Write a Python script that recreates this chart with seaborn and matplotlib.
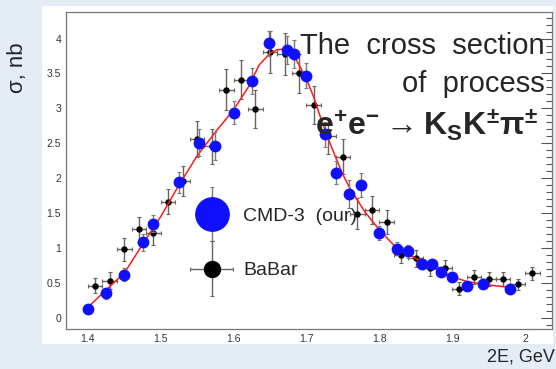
import numpy as np
import pandas as pd
import matplotlib
matplotlib.use("Agg")
import matplotlib.pyplot as plt
import seaborn as sns
from matplotlib.patches import Rectangle
from matplotlib.ticker import MultipleLocator
from matplotlib.container import ErrorbarContainer
from matplotlib.legend_handler import HandlerErrorbar


# CMD-3 points (blue)
cmd_x = [1.40, 1.425, 1.45, 1.475, 1.49, 1.525, 1.553, 1.575, 1.60, 1.625,
         1.649, 1.673, 1.683, 1.70, 1.725, 1.741, 1.759, 1.775, 1.80, 1.824,
         1.84, 1.859, 1.872, 1.884, 1.90, 1.92, 1.942, 1.979]
cmd_y = [0.13, 0.35, 0.62, 1.08, 1.35, 1.94, 2.51, 2.46, 2.94, 3.39,
         3.93, 3.84, 3.78, 3.47, 2.63, 2.08, 1.78, 1.90, 1.22, 0.99,
         0.95, 0.77, 0.77, 0.65, 0.59, 0.46, 0.49, 0.42]
cmd_err = [0.06, 0.08, 0.09, 0.12, 0.12, 0.15, 0.19, 0.20, 0.16, 0.19,
           0.18, 0.20, 0.20, 0.18, 0.18, 0.17, 0.20, 0.17, 0.10, 0.09,
           0.09, 0.07, 0.07, 0.06, 0.06, 0.06, 0.06, 0.05]

# BaBar points (black)
babar_x = [1.41, 1.43, 1.45, 1.47, 1.49, 1.51, 1.53, 1.55, 1.57, 1.59,
           1.61, 1.63, 1.65, 1.67, 1.69, 1.71, 1.73, 1.75, 1.77, 1.79,
           1.81, 1.83, 1.85, 1.87, 1.89, 1.91, 1.93, 1.95, 1.97, 1.99, 2.01]
babar_y = [0.46, 0.53, 0.98, 1.27, 1.22, 1.66, 1.96, 2.56, 2.46, 3.27,
           3.41, 2.99, 3.81, 3.78, 3.50, 3.05, 2.60, 2.31, 1.49, 1.54,
           1.37, 0.90, 0.85, 0.71, 0.72, 0.42, 0.58, 0.55, 0.56, 0.48, 0.635]
babar_yerr = [0.11, 0.12, 0.17, 0.18, 0.18, 0.18, 0.22, 0.26, 0.25, 0.29,
              0.28, 0.27, 0.30, 0.30, 0.28, 0.27, 0.26, 0.25, 0.22, 0.20,
              0.17, 0.12, 0.12, 0.11, 0.11, 0.10, 0.10, 0.10, 0.10, 0.08, 0.10]
babar_xerr = 0.01

# fit curve (red)
fit_x = [1.40, 1.425, 1.45, 1.475, 1.50, 1.525, 1.55, 1.575, 1.60, 1.62,
         1.635, 1.65, 1.66, 1.67, 1.68, 1.69, 1.70, 1.71, 1.72, 1.73,
         1.74, 1.75, 1.76, 1.78, 1.80, 1.82, 1.85, 1.88, 1.90, 1.92, 1.95, 1.98]
fit_y = [0.15, 0.40, 0.64, 1.05, 1.45, 1.90, 2.32, 2.66, 2.98, 3.30,
         3.62, 3.79, 3.84, 3.85, 3.80, 3.62, 3.42, 3.16, 2.85, 2.56,
         2.30, 2.05, 1.85, 1.52, 1.26, 1.04, 0.85, 0.69, 0.59, 0.52, 0.47, 0.435]

sns.set_style("white")
plt.rcParams["font.family"] = ["Liberation Sans", "DejaVu Sans"]
plt.rcParams["mathtext.fontset"] = "custom"
plt.rcParams["mathtext.bf"] = "Liberation Sans:bold"
plt.rcParams["mathtext.rm"] = "Liberation Sans"

bg = "#e4ecf6"
fig = plt.figure(figsize=(5.56, 3.69), dpi=100, facecolor=bg)
fig.patches.append(Rectangle((42 / 556, 25 / 369), 511 / 556, 338 / 369,
                             transform=fig.transFigure, facecolor="white",
                             edgecolor="none", zorder=-1))
ax = fig.add_axes([66 / 556, 40 / 369, 486 / 556, 317 / 369])
ax.set_zorder(1)
ax.set_facecolor("white")

df_fit = pd.DataFrame({"E": fit_x, "sigma": fit_y})
sns.lineplot(data=df_fit, x="E", y="sigma", color="#ff1a1a", lw=1.1, ax=ax,
             zorder=3, sort=False)

ax.errorbar(babar_x, babar_y, yerr=babar_yerr, xerr=babar_xerr, fmt="o",
            color="black", ms=3.6, ecolor="#6e6258", elinewidth=1.0,
            capsize=1.5, capthick=0.8, zorder=2, label="BaBar")
ax.errorbar(cmd_x, cmd_y, yerr=cmd_err, fmt="o", color="#1010ff", ms=7.5,
            ecolor="#7a7a7a", elinewidth=1.0, capsize=1.5, capthick=0.8,
            zorder=4, label="CMD-3  (our)")

ax.set_xlim(1.37, 2.037)
ax.set_ylim(-0.16, 4.38)
ax.xaxis.set_major_locator(MultipleLocator(0.1))
ax.xaxis.set_minor_locator(MultipleLocator(0.02))
ax.yaxis.set_major_locator(MultipleLocator(0.5))
ax.yaxis.set_minor_locator(MultipleLocator(0.1))
ax.tick_params(which="both", direction="in", colors="#555555",
               labelcolor="#333333", labelsize=7.5, right=True, top=False)
ax.tick_params(which="major", length=8, width=0.8)
ax.tick_params(which="minor", length=4, width=0.8)
ax.set_xticks(ax.get_xticks())
ax.set_xticklabels([f"{v:g}" for v in ax.get_xticks()])
ax.set_yticks(ax.get_yticks())
ax.set_yticklabels([f"{v:g}" for v in ax.get_yticks()])
ax.set_xlim(1.37, 2.037)
ax.set_ylim(-0.16, 4.38)
for s in ax.spines.values():
    s.set_color("#777777")
    s.set_linewidth(0.9)
ax.set_xlabel("")
ax.set_ylabel("")

fig.text(18 / 556, 1 - 68 / 369, "σ, nb", rotation=90, fontsize=16,
         ha="center", va="center")
fig.text(555 / 556, 1 - 357 / 369, "2E, GeV", fontsize=13,
         ha="right", va="center")

fig.text(545 / 556, 1 - 46 / 369, "The  cross  section", fontsize=21,
         ha="right", va="center")
fig.text(545 / 556, 1 - 84 / 369, "of  process", fontsize=21,
         ha="right", va="center")
fig.text(538 / 556, 1 - 124 / 369,
         r"$\mathbf{e^{+}e^{-}\rightarrow K_{S}K^{\pm}\pi^{\pm}}$",
         fontsize=23, ha="right", va="center")

handles, labels = ax.get_legend_handles_labels()
ax.legend(handles[::-1], labels[::-1], loc="center left",
          bbox_to_anchor=(0.22, 0.27), frameon=False, markerscale=3.2,
          fontsize=14, labelspacing=1.9, handlelength=2.2, handletextpad=0.5,
          handler_map={ErrorbarContainer: HandlerErrorbar(xerr_size=1.1,
                                                          yerr_size=1.4)})

fig.savefig("out.png", dpi=100, facecolor=bg)
